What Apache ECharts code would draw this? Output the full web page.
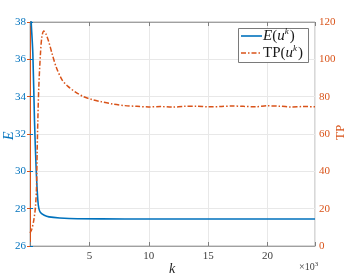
<!DOCTYPE html>
<html><head><meta charset="utf-8">
<script src="https://cdn.jsdelivr.net/npm/echarts@6/dist/echarts.min.js"></script>
<style>html,body{margin:0;padding:0;background:#fff}#c{width:348px;height:275px}</style>
</head><body><div id="c"></div>
<script>
// k in units of 10^3
var eK = [0, 0.1, 0.24, 0.38, 0.52, 0.66, 0.75, 0.88, 1.2, 1.6, 2.5, 4, 8, 12, 16, 20, 24];
var eVals = [39.6, 38.0, 36.3, 32.7, 30.1, 28.45, 28.0, 27.8, 27.65, 27.56, 27.5, 27.46, 27.45, 27.45, 27.45, 27.45, 27.45];
var tpK = [0, 0.15, 0.32, 0.46, 0.55, 0.6, 0.66, 0.74, 0.88, 1.0, 1.16, 1.35, 1.6, 1.86, 2.2, 2.7, 3.2, 3.8, 4.5, 5.2, 6, 7, 8, 9, 10, 11, 12, 13, 14, 15, 16, 17, 18, 19, 20, 21, 22, 23, 24];
var tpVals = [7, 9, 13.8, 21, 31.7, 49.7, 67.4, 85, 103, 112, 115.2, 113.5, 109, 103, 96, 89, 85.5, 82.6, 80, 78.5, 77.3, 76, 75.2, 74.8, 74.5, 74.7, 74.4, 74.8, 74.9, 74.6, 74.7, 75.0, 74.8, 74.6, 75.1, 74.9, 74.5, 74.7, 74.6];
var xTicks = [5, 10, 15, 20];
var eTicks = [26, 28, 30, 32, 34, 36, 38];
var tpTicks = [0, 20, 40, 60, 80, 100, 120];

var BLUE = '#0072BD', ORANGE = '#D95319', FONT = 'Liberation Serif';
function zip(a, b) { return a.map(function (v, i) { return [v, b[i]]; }); }

var chart = echarts.init(document.getElementById('c'));
chart.setOption({
  animation: false,
  grid: { left: 30, right: 33, top: 22, bottom: 29, show: true, borderColor: '#b0b0b0', borderWidth: 1, containLabel: false },
  xAxis: [{
    type: 'value', min: 0, max: 24, interval: 5,
    axisLine: { lineStyle: { color: '#a0a0a0' } },
    axisTick: { inside: true, length: 4, lineStyle: { color: '#808080' } },
    axisLabel: { color: '#404040', fontFamily: FONT, fontSize: 11, margin: 5,
      formatter: function (v) { return xTicks.indexOf(v) >= 0 ? String(v) : ''; } },
    splitLine: { show: true, lineStyle: { color: '#e8e8e8' } }
  }, {
    type: 'value', min: 0, max: 24, interval: 5, position: 'top',
    axisLine: { lineStyle: { color: '#a0a0a0' } },
    axisTick: { inside: true, length: 4, lineStyle: { color: '#808080' } },
    axisLabel: { show: false }, splitLine: { show: false }
  }],
  yAxis: [{
    type: 'value', min: eTicks[0], max: eTicks[eTicks.length - 1], interval: 2,
    axisLine: { show: true, lineStyle: { color: BLUE, width: 1 } },
    axisTick: { show: true, inside: true, length: 3, lineStyle: { color: BLUE } },
    axisLabel: { color: BLUE, fontFamily: FONT, fontSize: 11, margin: 4 },
    splitLine: { show: true, lineStyle: { color: '#e8e8e8' } }
  }, {
    type: 'value', min: tpTicks[0], max: tpTicks[tpTicks.length - 1], interval: 20, position: 'right',
    axisLine: { show: true, lineStyle: { color: ORANGE, width: 1 } },
    axisTick: { show: true, inside: true, length: 3, lineStyle: { color: ORANGE } },
    axisLabel: { color: ORANGE, fontFamily: FONT, fontSize: 11, margin: 4 },
    splitLine: { show: false }
  }],
  series: [{
    name: 'E', type: 'line', yAxisIndex: 0, data: zip(eK, eVals), symbol: 'none', smooth: 0.3,
    clip: true, lineStyle: { color: BLUE, width: 1.6 }, itemStyle: { color: BLUE }
  }, {
    name: 'TP', type: 'line', yAxisIndex: 1, data: zip(tpK, tpVals), symbol: 'none', smooth: 0.3,
    lineStyle: { color: ORANGE, width: 1.5, type: [5, 2, 1.5, 2] }, itemStyle: { color: ORANGE }
  }],
  graphic: [
    // legend box
    { type: 'rect', shape: { x: 238.5, y: 28.5, width: 70, height: 34 }, style: { fill: '#fff', stroke: '#7a7a7a', lineWidth: 1 }, z: 10 },
    { type: 'line', shape: { x1: 241, y1: 36, x2: 262, y2: 36 }, style: { stroke: BLUE, lineWidth: 1.6 }, z: 11 },
    { type: 'line', shape: { x1: 241, y1: 53, x2: 262, y2: 53 }, style: { stroke: ORANGE, lineWidth: 1.5, lineDash: [5, 2, 1.5, 2] }, z: 11 },
    { type: 'text', x: 263, y: 36, z: 11, style: { verticalAlign: 'middle',
      rich: { i: { font: 'italic 15px "Liberation Serif"', fill: '#1a1a1a' }, r: { font: '15px "Liberation Serif"', fill: '#1a1a1a' },
              s: { font: 'italic 9px "Liberation Serif"', fill: '#1a1a1a', padding: [0, 1, 9, 0] } },
      text: '{i|E}{r|(}{i|u}{s|k}{r|)}' } },
    { type: 'text', x: 263, y: 53, z: 11, style: { verticalAlign: 'middle',
      rich: { i: { font: 'italic 15px "Liberation Serif"', fill: '#1a1a1a' }, r: { font: '15px "Liberation Serif"', fill: '#1a1a1a' },
              s: { font: 'italic 9px "Liberation Serif"', fill: '#1a1a1a', padding: [0, 1, 9, 0] } },
      text: '{r|TP(}{i|u}{s|k}{r|)}' } },
    // axis titles
    { type: 'text', left: 169, top: 262, style: { text: 'k', font: 'italic 14px "Liberation Serif"', fill: '#262626' } },
    { type: 'text', left: 299, top: 261, style: { rich: { a: { font: '10px "Liberation Serif"', fill: '#404040' }, b: { font: '7px "Liberation Serif"', fill: '#404040', padding: [0, 0, 6, 0] } }, text: '{a|×10}{b|3}' } },
    { type: 'text', x: 2, y: 140, rotation: Math.PI / 2, style: { text: 'E', font: 'italic 14px "Liberation Serif"', fill: BLUE } },
    { type: 'text', x: 334, y: 140, rotation: Math.PI / 2, style: { text: 'TP', font: '13px "Liberation Serif"', fill: ORANGE } }
  ]
});
</script></body></html>
